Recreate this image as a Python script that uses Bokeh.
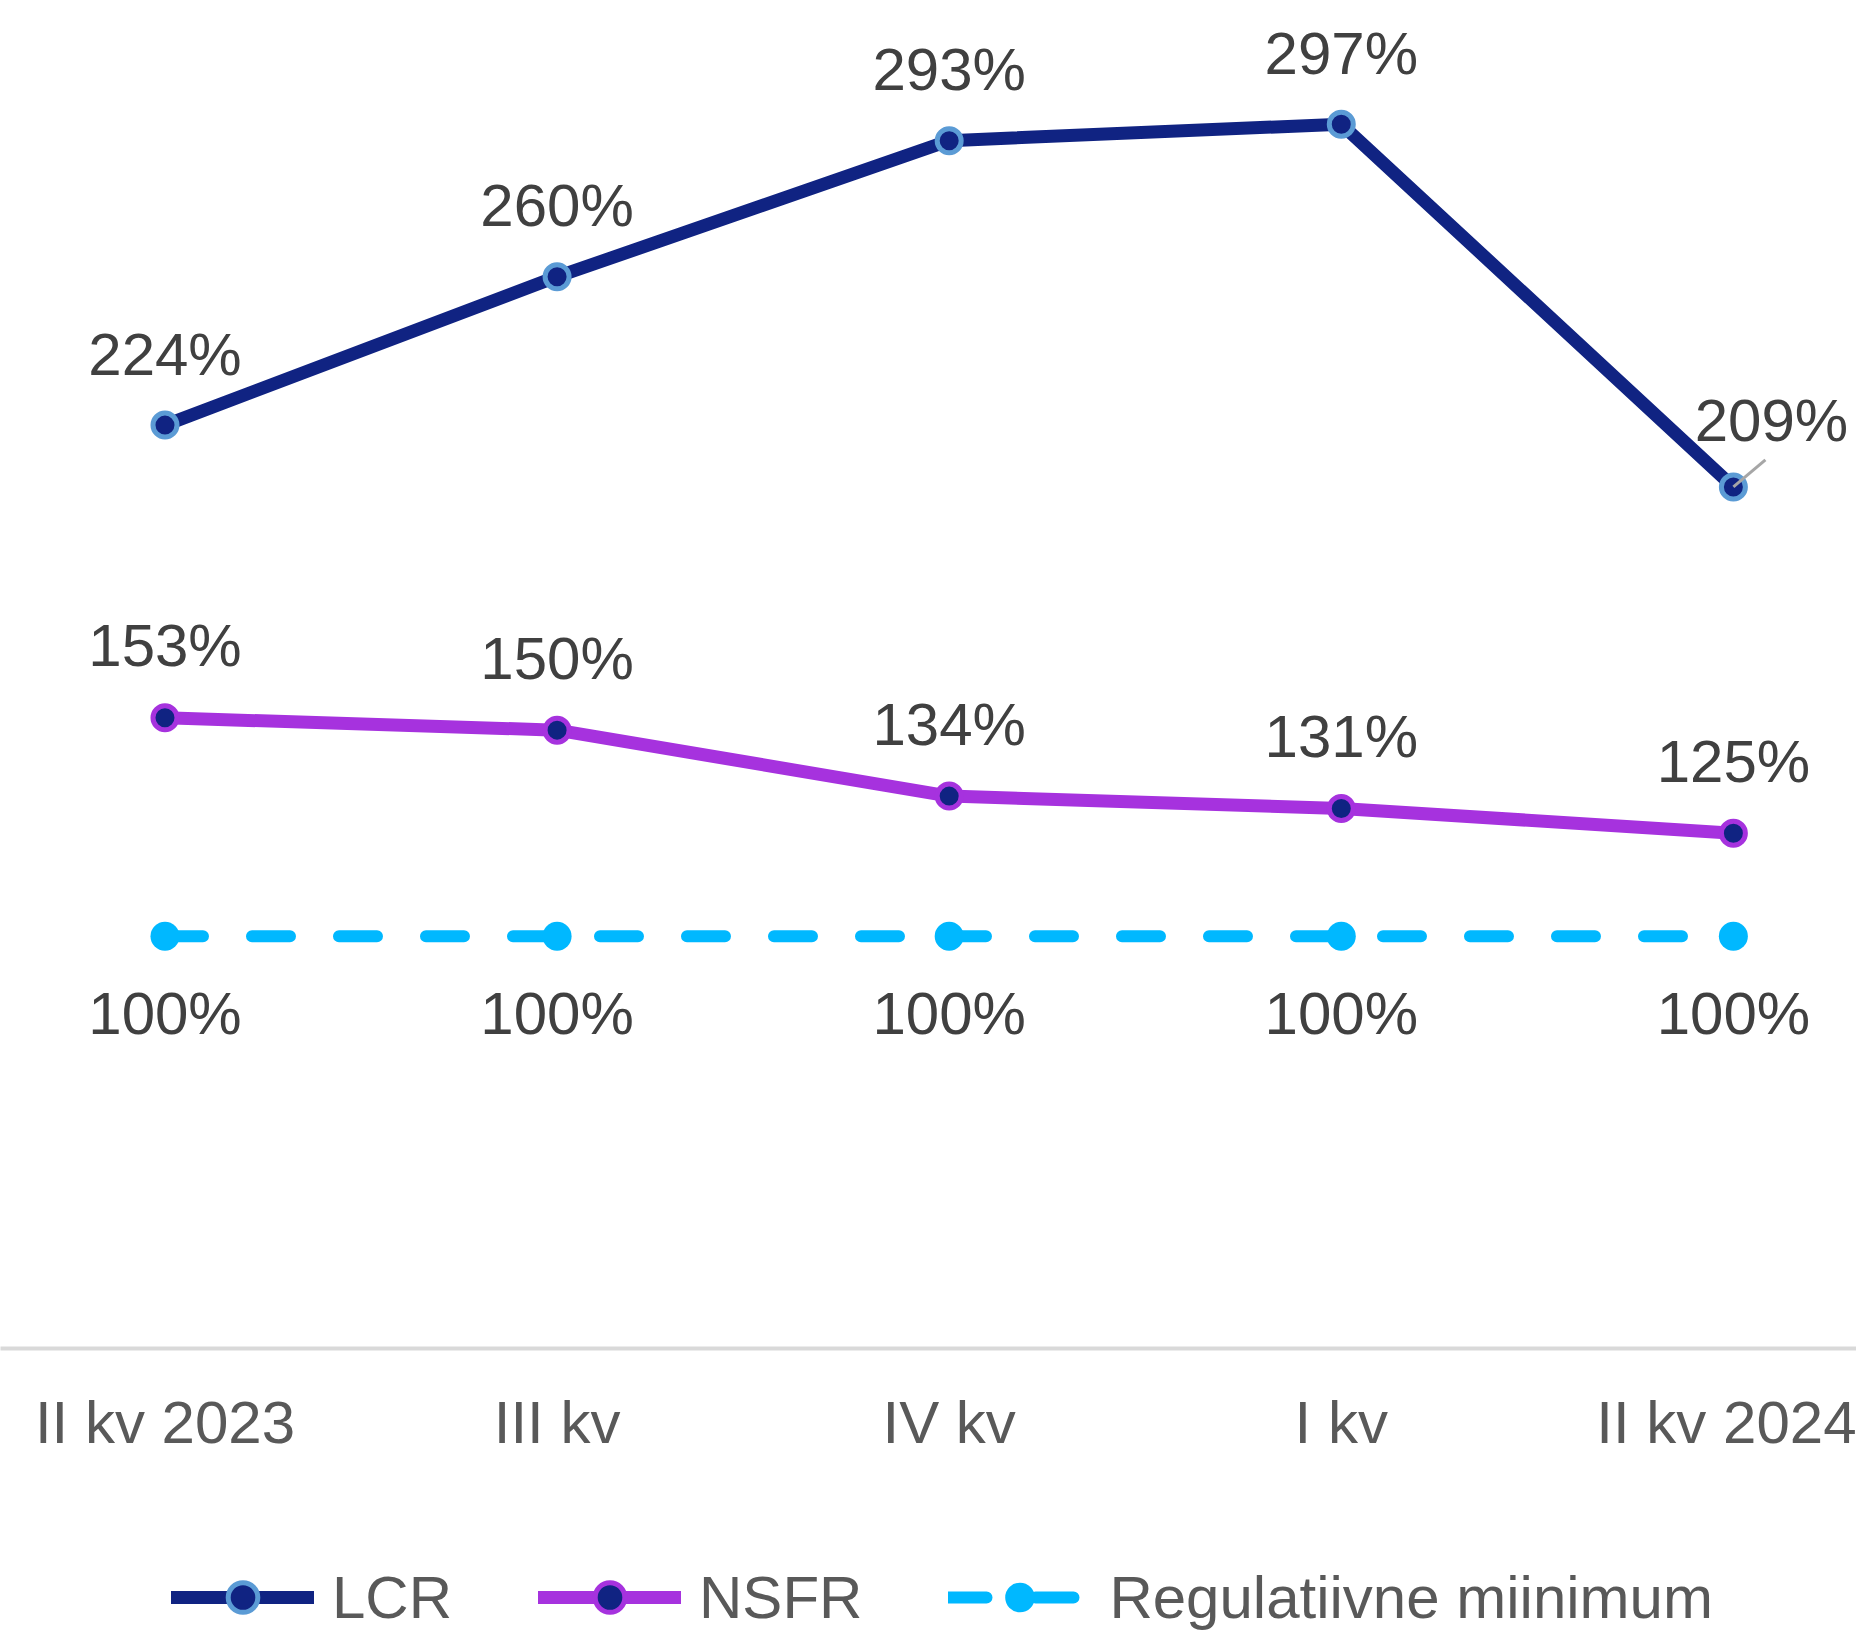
from bokeh.plotting import figure
from bokeh.models import (Range1d, FixedTicker, Legend, LegendItem, ColumnDataSource)
from bokeh.layouts import column
from bokeh.core.properties import value
from bokeh.embed import file_html
from bokeh.resources import INLINE

# ---- data ----
categories = ["II kv 2023", "III kv", "IV kv", "I kv", "II kv 2024"]
lcr = [224, 260, 293, 297, 209]
nsfr = [153, 150, 134, 131, 125]
reg_min = [100, 100, 100, 100, 100]
series_names = ["LCR", "NSFR", "Regulatiivne miinimum"]

FONT = "Liberation Sans"
C_LCR = "#102382"
C_LCR_EDGE = "#5B9BD5"
C_NSFR = "#A632DE"
C_REG = "#00B8FF"

W = 1856
H_MAIN = 1460
H_LEG = 1634 - H_MAIN
FRAME_H = 1348

xs = list(range(len(categories)))
X0, X1 = -0.4195, 4.314
Y1 = 327.0

p = figure(width=W, height=H_MAIN, output_backend="svg", toolbar_location=None,
           x_range=Range1d(X0, X1), y_range=Range1d(0, Y1),
           y_axis_location=None, min_border_left=0, min_border_right=0,
           min_border_top=0, min_border_bottom=H_MAIN - FRAME_H)
p.outline_line_color = None
p.xgrid.visible = False
p.ygrid.visible = False

ax = p.xaxis[0]
ax.ticker = FixedTicker(ticks=xs)
ax.major_label_overrides = {i: c for i, c in zip(xs, categories)}
ax.axis_line_color = "#D9D9D9"
ax.axis_line_width = 4
ax.major_tick_line_color = None
ax.minor_tick_line_color = None
ax.major_label_standoff = 34
ax.major_label_text_font = FONT
ax.major_label_text_font_size = "60px"
ax.major_label_text_color = "#595959"

line_styles = [dict(line_color=C_LCR, line_width=13, line_join="round", line_cap="round"),
               dict(line_color=C_NSFR, line_width=13, line_join="round", line_cap="round"),
               dict(line_color=C_REG, line_width=12, line_dash="38 49", line_cap="round")]
marker_styles = [dict(size=24, fill_color=C_LCR, line_color=C_LCR_EDGE, line_width=5),
                 dict(size=24, fill_color=C_LCR, line_color=C_NSFR, line_width=5),
                 dict(size=29, fill_color=C_REG, line_color=None)]

series = [lcr, nsfr, reg_min]
for ys, ls, ms in zip(series, line_styles, marker_styles):
    p.line(xs, ys, **ls)
    p.scatter(xs, ys, **ms)

# leader line for the last LCR label (pixel offsets converted into data units)
px_per_x = W / (X1 - X0)
px_per_y = FRAME_H / Y1
p.segment(x0=[xs[-1]], y0=[lcr[-1]], x1=[xs[-1] + 32 / px_per_x], y1=[lcr[-1] + 27 / px_per_y],
          line_color="#A6A6A6", line_width=3)

lab_kw = dict(text_font=value(FONT), text_font_size="60px", text_align="center",
              text_baseline="middle", text_color="#404040")

lcr_xoff = [0, 0, 0, 0, 38]
lcr_yoff = [-71, -71, -71, -71, -66]
src_lcr = ColumnDataSource(dict(x=xs, y=lcr, t=[f"{v}%" for v in lcr], xo=lcr_xoff, yo=lcr_yoff))
p.text(x="x", y="y", text="t", x_offset="xo", y_offset="yo", source=src_lcr, **lab_kw)
p.text(x=xs, y=nsfr, text=[f"{v}%" for v in nsfr], y_offset=-72, **lab_kw)
p.text(x=xs, y=reg_min, text=[f"{v}%" for v in reg_min], y_offset=77, **lab_kw)

# ---- legend strip below the chart (same series, drawn outside its visible range) ----
pl = figure(width=W, height=H_LEG, output_backend="svg", toolbar_location=None,
            x_axis_location=None, y_axis_location=None,
            min_border_left=0, min_border_right=0, min_border_top=0, min_border_bottom=0,
            x_range=Range1d(0, 1), y_range=Range1d(-2, -1))
pl.outline_line_color = None
pl.xgrid.visible = False
pl.ygrid.visible = False

items = []
for name, ys, ls, ms in zip(series_names, series, line_styles, marker_styles):
    r1 = pl.line(xs, ys, **ls)
    r2 = pl.scatter(xs, ys, **ms)
    items.append(LegendItem(label=name, renderers=[r1, r2]))

legend = Legend(items=items, location=(171, 0), orientation="horizontal",
                glyph_width=143, glyph_height=74, label_standoff=18, spacing=86,
                padding=0, margin=0, border_line_color=None, background_fill_alpha=0,
                label_text_font=FONT, label_text_font_size="60px", label_text_color="#595959")
pl.add_layout(legend, "center")

layout = column(p, pl, spacing=0)
open("out.html", "w").write(file_html(layout, INLINE))
